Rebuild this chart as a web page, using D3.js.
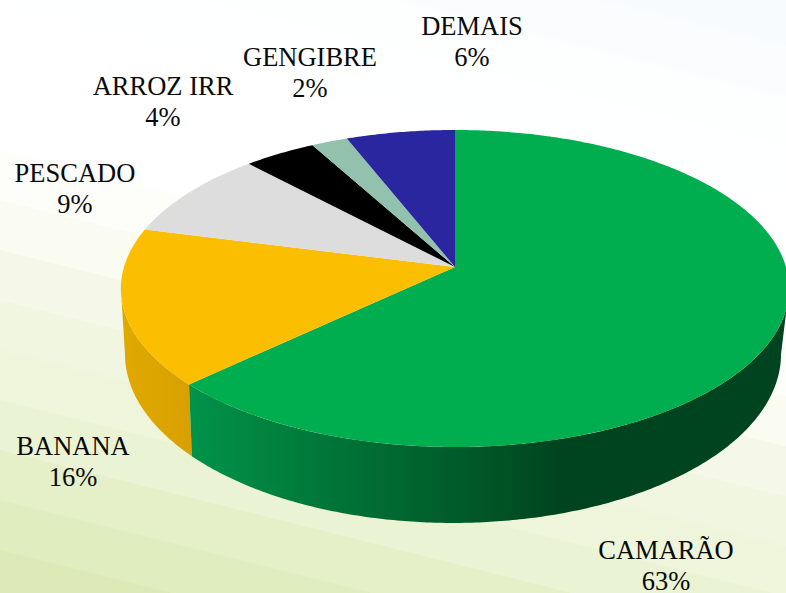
<!DOCTYPE html>
<html>
<head>
<meta charset="utf-8">
<script src="https://cdn.jsdelivr.net/npm/d3@7"></script>
<style>
html, body { margin: 0; padding: 0; overflow: hidden; }
svg { display: block; }
</style>
</head>
<body>
<script>
var categories = ["CAMARÃO", "BANANA", "PESCADO", "ARROZ IRR", "GENGIBRE", "DEMAIS"];
var shares = [63, 16, 9, 4, 2, 6];
var sliceColors = ["#00AE50", "#FCBE00", "#DDDDDD", "#000000", "#92C2AE", "#2A26A0"];

// label centres, first line baseline
var labelX = [666, 73, 75, 163, 310, 472];
var labelY = [559, 455, 182, 95, 66, 35];

var width = 786, height = 593;

var svg = d3.select("body").append("svg").attr("width", width).attr("height", height);
var defs = svg.append("defs");

// background: banded diagonal wash, white at the top, pale green at the bottom left
var bgColor = d3.scaleLinear()
    .domain([-196, -100, 0, 130, 220, 300, 430, 500, 600])
    .range(["#F6FBFE", "#FCFDFE", "#FFFFFF", "#FFFFFF", "#FAFBF2", "#F3F7E4", "#EAF3D2", "#E2EEC2", "#DBE9B3"]);
var t0 = -200, t1 = 610, bandSize = 50;
var bg = defs.append("linearGradient").attr("id", "bg")
    .attr("gradientUnits", "userSpaceOnUse")
    .attr("x1", 0).attr("y1", 0)
    .attr("x2", (t1 - t0) * -0.2353).attr("y2", (t1 - t0) * 0.9412)
    .attr("gradientTransform", "translate(" + (t0 * -0.2353) + "," + (t0 * 0.9412) + ")");
d3.range(t0, t1, bandSize).forEach(function (t) {
    var c = bgColor(t + bandSize / 2);
    bg.append("stop").attr("offset", (t - t0) / (t1 - t0)).attr("stop-color", c);
    bg.append("stop").attr("offset", Math.min(1, (t + bandSize - t0) / (t1 - t0))).attr("stop-color", c);
});
svg.append("rect").attr("width", width).attr("height", height).attr("fill", "url(#bg)");

// shading of the rim
var greenSide = defs.append("linearGradient").attr("id", "greenSide")
    .attr("gradientUnits", "userSpaceOnUse")
    .attr("x1", 190).attr("y1", 0).attr("x2", 786).attr("y2", 0);
[[0, "#00934A"], [0.18, "#007C3B"], [0.36, "#006630"], [0.52, "#005225"], [0.62, "#00441F"], [1, "#00441F"]].forEach(function (s) {
    greenSide.append("stop").attr("offset", s[0]).attr("stop-color", s[1]);
});
var yellowSide = defs.append("linearGradient").attr("id", "yellowSide")
    .attr("gradientUnits", "userSpaceOnUse")
    .attr("x1", 125).attr("y1", 0).attr("x2", 195).attr("y2", 0);
yellowSide.append("stop").attr("offset", 0).attr("stop-color", "#DFA900");
yellowSide.append("stop").attr("offset", 1).attr("stop-color", "#D8A000");

// perspective: turns a pie angle into a point on the tilted disc
var tilt = -0.1356;
function project(face, angle) {
    var u = Math.sin(angle), v = -Math.cos(angle), w = 1 + tilt * v;
    return [face.cx + face.a * u / w, face.cy + face.b * v / w];
}
var topFace = { cx: 455, cy: 267, a: 331, b: 155.6 };
var bottomFace = { cx: 453, cy: 331, a: 325, b: 165.9 };

var pie = d3.pie().sort(null).value(function (d) { return d; });
var arcs = pie(shares);
var line = d3.line();

function rimAngles(a0, a1) {
    var steps = Math.max(2, Math.ceil(Math.abs(a1 - a0) / 0.01));
    return d3.range(steps + 1).map(function (i) { return a0 + (a1 - a0) * i / steps; });
}

function sidePath(a0, a1) {
    var top = rimAngles(a0, a1).map(function (a) { return project(topFace, a); });
    var bottom = rimAngles(a1, a0).map(function (a) { return project(bottomFace, a); });
    return line(top.concat(bottom)) + "Z";
}

function topPath(d) {
    var pts = rimAngles(d.startAngle, d.endAngle).map(function (a) { return project(topFace, a); });
    return line([[topFace.cx, topFace.cy]].concat(pts)) + "Z";
}

// visible rim only: widest point on the right round to widest point on the left
var widest = Math.asin(-tilt);
svg.append("path")
    .attr("d", sidePath(arcs[1].startAngle, Math.PI * 1.5 - widest))
    .attr("fill", "url(#yellowSide)");
svg.append("path")
    .attr("d", sidePath(Math.PI / 2 + widest, arcs[0].endAngle))
    .attr("fill", "url(#greenSide)");

svg.selectAll("path.slice")
    .data(arcs)
    .enter().append("path")
    .attr("class", "slice")
    .attr("d", topPath)
    .attr("fill", function (d, i) { return sliceColors[i]; });

var labels = svg.selectAll("text.label")
    .data(categories)
    .enter().append("text")
    .attr("class", "label")
    .attr("text-anchor", "middle")
    .attr("font-family", "'Liberation Serif', serif")
    .attr("font-size", 26.5)
    .attr("fill", "#0A0A0A");
labels.append("tspan")
    .attr("x", function (d, i) { return labelX[i]; })
    .attr("y", function (d, i) { return labelY[i]; })
    .text(function (d) { return d; });
labels.append("tspan")
    .attr("x", function (d, i) { return labelX[i]; })
    .attr("y", function (d, i) { return labelY[i] + 31; })
    .text(function (d, i) { return shares[i] + "%"; });
</script>
</body>
</html>
